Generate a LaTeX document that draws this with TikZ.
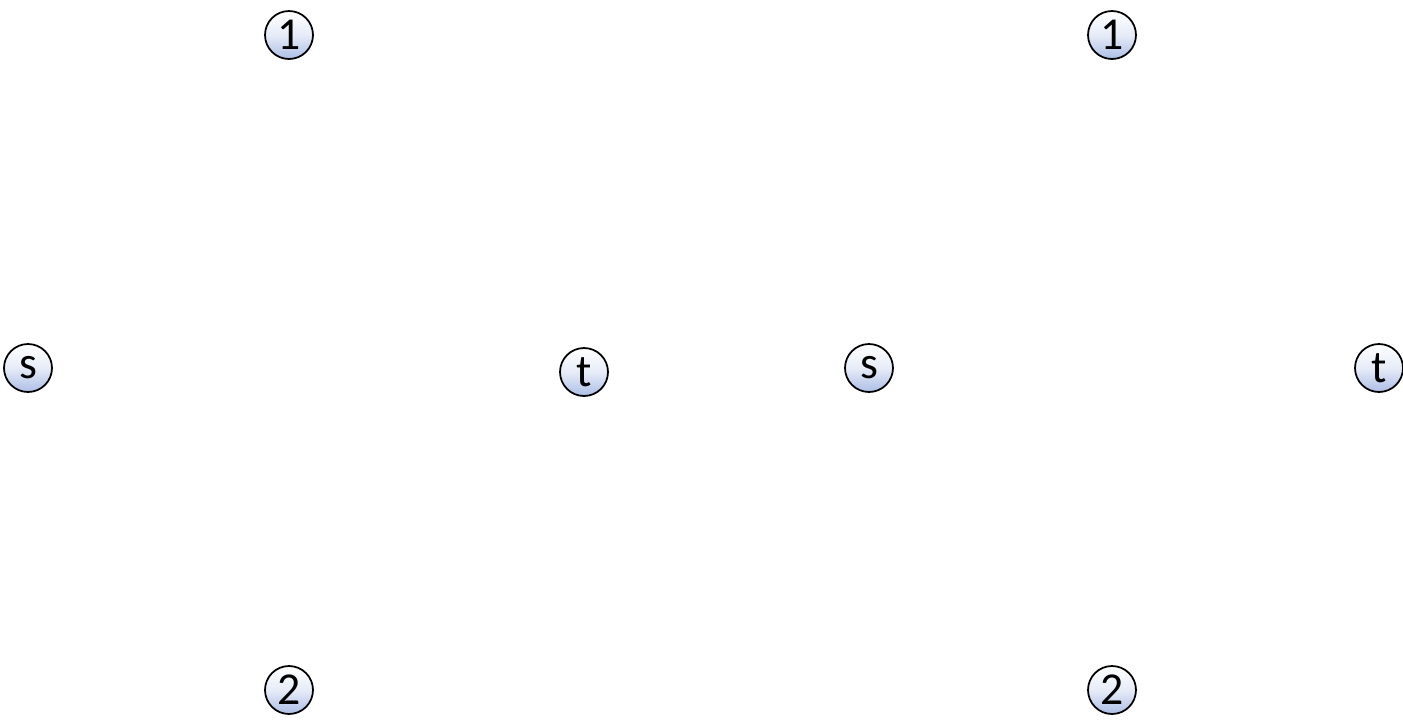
\documentclass[tikz,border=0pt]{standalone}
\usepackage{fontspec}
\setmainfont{Carlito}
\usetikzlibrary{positioning}

\definecolor{vertexblue}{RGB}{172,190,230}

\tikzset{
  vertex/.style={circle, draw=black, line width=1pt, minimum size=0.96cm, inner sep=0pt,
    top color=white, bottom color=vertexblue, middle color=white!70!vertexblue,
    font=\fontsize{26}{26}\selectfont},
}

\begin{document}
\begin{tikzpicture}[x=0.02cm,y=-0.02cm]
  % frame
  \useasboundingbox (0,0) rectangle (1403,721);

  % left graph
  \node[vertex] (s1) at (28,368) {s};
  \node[vertex] (a1) at (289,35) {1};
  \node[vertex] (b1) at (289,690) {2};
  \node[vertex] (t1) at (584,372) {t};

  % right graph
  \node[vertex] (s2) at (869,368) {s};
  \node[vertex] (a2) at (1112,35) {1};
  \node[vertex] (b2) at (1112,690) {2};
  \node[vertex] (t2) at (1379,368) {t};
\end{tikzpicture}
\end{document}
